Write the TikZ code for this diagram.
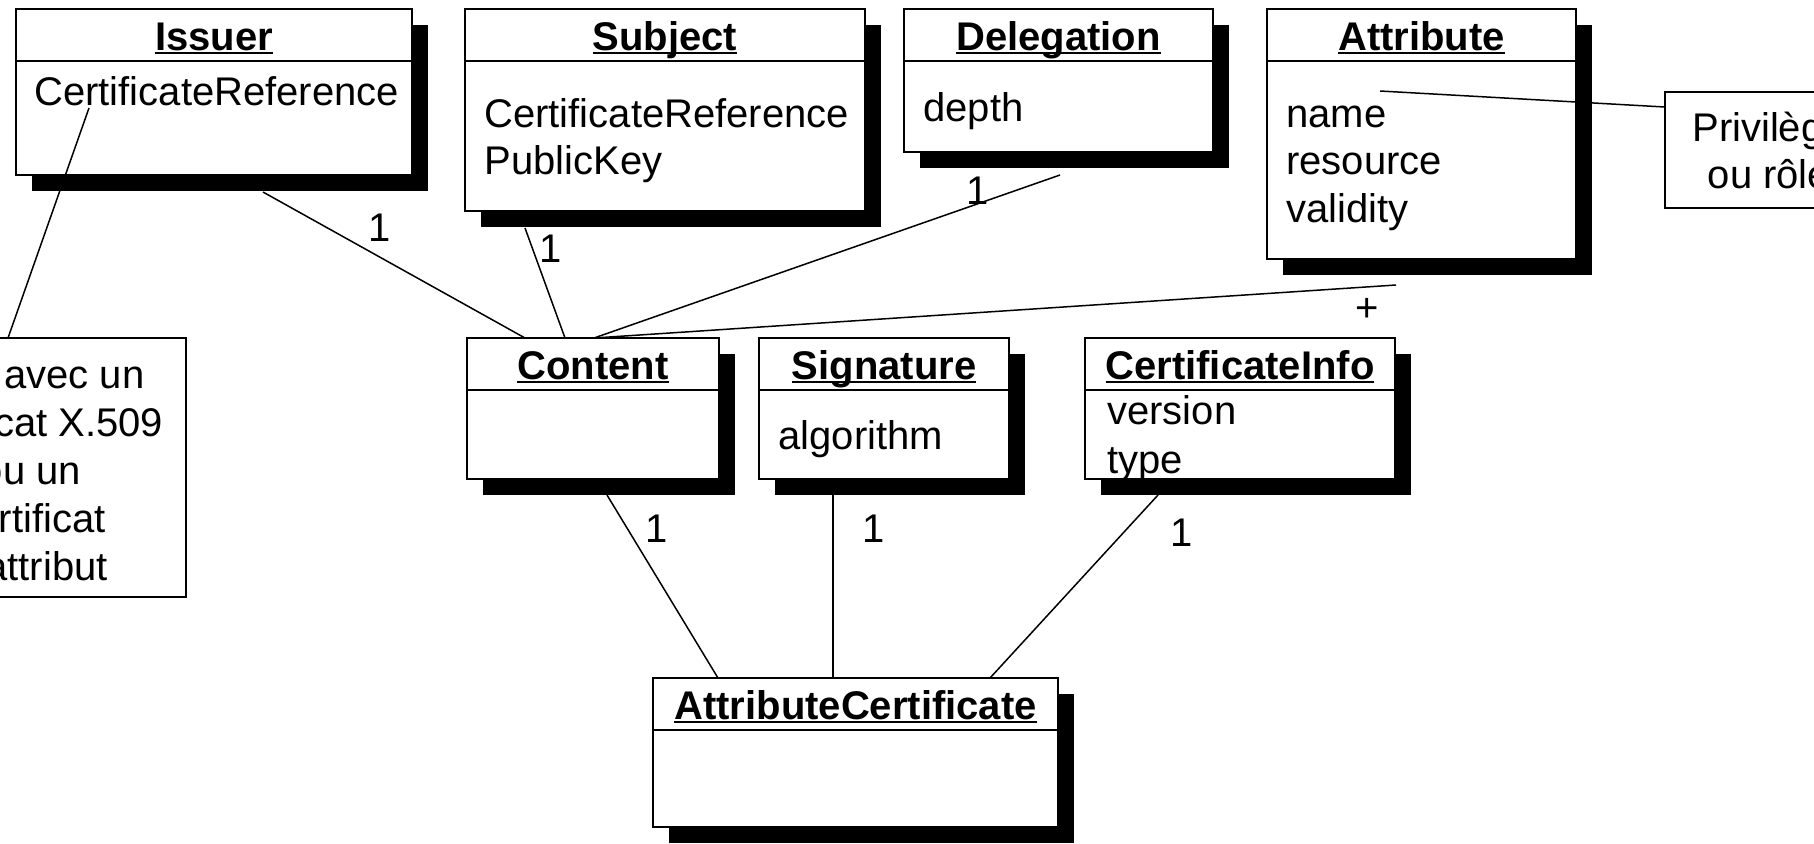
\documentclass[tikz,border=0pt]{standalone}
\usepackage{fontspec}
\setmainfont{Liberation Sans}
\usetikzlibrary{shadows,backgrounds}

% bold class name with a tight underline
\newsavebox\titlebox
\newcommand\ultitle[1]{\sbox\titlebox{\bfseries #1}\rlap{\rule[-2.2pt]{\wd\titlebox}{1.4pt}}\usebox\titlebox}

\begin{document}
\begin{tikzpicture}[x=0.5pt,y=-0.5pt,
  every node/.style={font=\fontsize{20}{24}\selectfont},
  classbox/.style={draw, fill=white, line width=0.75pt, anchor=north west,
    inner sep=0pt, outer sep=0pt,
    drop shadow={shadow xshift=8pt, shadow yshift=-8pt, opacity=1, fill=black}},
  notebox/.style={draw, fill=white, line width=0.75pt, anchor=north west,
    inner sep=0pt, outer sep=0pt},
  classtitle/.style={anchor=base, inner sep=0pt},
  member/.style={anchor=base west, inner sep=0pt},
  notetext/.style={anchor=base, inner sep=0pt},
  mult/.style={inner sep=0pt},
  link/.style={line width=0.75pt},
]
\useasboundingbox (0,0) rectangle (1814,843);
\clip (0,0) rectangle (1814,843);

% ---------- classes, top row ----------
\node[classbox, minimum width=198pt, minimum height=83pt] (issuer) at (16,9) {};
\draw[link] ([yshift=-26pt]issuer.north west) -- ([yshift=-26pt]issuer.north east);
\node[classtitle] (issuer-title) at ([yshift=-20.5pt]issuer.north) {\ultitle{Issuer}};
\node[member] (issuer-ref) at ([shift={(18,96)}]issuer.north west) {CertificateReference};

\node[classbox, minimum width=200pt, minimum height=101pt] (subject) at (465,9) {};
\draw[link] ([yshift=-26pt]subject.north west) -- ([yshift=-26pt]subject.north east);
\node[classtitle] (subject-title) at ([yshift=-20.5pt]subject.north) {\ultitle{Subject}};
\node[member] (subject-ref) at ([shift={(19,118)}]subject.north west) {CertificateReference};
\node[member] (subject-key) at ([shift={(19,165)}]subject.north west) {PublicKey};

\node[classbox, minimum width=154.5pt, minimum height=71.5pt] (delegation) at (904,9) {};
\draw[link] ([yshift=-26pt]delegation.north west) -- ([yshift=-26pt]delegation.north east);
\node[classtitle] (delegation-title) at ([yshift=-20.5pt]delegation.north) {\ultitle{Delegation}};
\node[member] (delegation-depth) at ([shift={(19,112)}]delegation.north west) {depth};

\node[classbox, minimum width=154.5pt, minimum height=125pt] (attribute) at (1267,9) {};
\draw[link] ([yshift=-26pt]attribute.north west) -- ([yshift=-26pt]attribute.north east);
\node[classtitle] (attribute-title) at ([yshift=-20.5pt]attribute.north) {\ultitle{Attribute}};
\node[member] (attribute-name) at ([shift={(19,118)}]attribute.north west) {name};
\node[member] (attribute-resource) at ([shift={(19,165)}]attribute.north west) {resource};
\node[member] (attribute-validity) at ([shift={(19,213)}]attribute.north west) {validity};

% ---------- classes, middle row ----------
\node[classbox, minimum width=126pt, minimum height=70.5pt] (content) at (467,338) {};
\draw[link] ([yshift=-26pt]content.north west) -- ([yshift=-26pt]content.north east);
\node[classtitle] (content-title) at ([yshift=-20.5pt]content.north) {\ultitle{Content}};

\node[classbox, minimum width=125pt, minimum height=70.5pt] (signature) at (759,338) {};
\draw[link] ([yshift=-26pt]signature.north west) -- ([yshift=-26pt]signature.north east);
\node[classtitle] (signature-title) at ([yshift=-20.5pt]signature.north) {\ultitle{Signature}};
\node[member] (signature-alg) at ([shift={(19,111)}]signature.north west) {algorithm};

\node[classbox, minimum width=155pt, minimum height=70.5pt] (certinfo) at (1085,338) {};
\draw[link] ([yshift=-26pt]certinfo.north west) -- ([yshift=-26pt]certinfo.north east);
\node[classtitle] (certinfo-title) at ([yshift=-20.5pt]certinfo.north) {\ultitle{CertificateInfo}};
\node[member] (certinfo-version) at ([shift={(22,86)}]certinfo.north west) {version};
\node[member] (certinfo-type) at ([shift={(22,135)}]certinfo.north west) {type};

% ---------- class, bottom ----------
\node[classbox, minimum width=202.5pt, minimum height=74.5pt] (attrcert) at (653,678) {};
\draw[link] ([yshift=-26pt]attrcert.north west) -- ([yshift=-26pt]attrcert.north east);
\node[classtitle] (attrcert-title) at ([yshift=-20.5pt]attrcert.north) {\ultitle{AttributeCertificate}};

% ---------- notes ----------
\node[notebox, minimum width=155pt, minimum height=129.5pt] (note-ref) at (-124,338) {};
\node[notetext] (note-ref-1) at ([shift={(155,50)}]note-ref.north west) {Lien avec un};
\node[notetext] (note-ref-2) at ([shift={(155,98)}]note-ref.north west) {certificat X.509};
\node[notetext] (note-ref-3) at ([shift={(155,146)}]note-ref.north west) {ou un};
\node[notetext] (note-ref-4) at ([shift={(155,194)}]note-ref.north west) {certificat};
\node[notetext] (note-ref-5) at ([shift={(155,242)}]note-ref.north west) {d'attribut};

\node[notebox, minimum width=104pt, minimum height=58pt] (note-priv) at (1665,92) {};
\node[notetext] (note-priv-1) at ([shift={(104,49)}]note-priv.north west) {Privilège};
\node[notetext] (note-priv-2) at ([shift={(104,96)}]note-priv.north west) {ou rôle};

% note anchors, drawn over the boxes
\draw[link] ([shift={(73,99)}]issuer.north west) -- ([shift={(132,0)}]note-ref.north west);
\draw[link] ([shift={(113,82)}]attribute.north west) -- ([shift={(0,15)}]note-priv.north west);

% ---------- associations, behind the boxes ----------
\begin{pgfonlayer}{background}
\draw[link] ([shift={(247,183)}]issuer.north west) -- ([shift={(58,0)}]content.north west);
\draw[link] ([shift={(60,219)}]subject.north west) -- ([shift={(98,0)}]content.north west);
\draw[link] ([shift={(156,166)}]delegation.north west) -- ([shift={(127,0)}]content.north west);
\draw[link] ([shift={(129,276)}]attribute.north west) -- ([shift={(127,0)}]content.north west);
\draw[link] ([shift={(140,157)}]content.north west) -- ([shift={(65,0)}]attrcert.north west);
\draw[link] ([shift={(74,157)}]signature.north west) -- ([shift={(180,0)}]attrcert.north west);
\draw[link] ([shift={(73,157)}]certinfo.north west) -- ([shift={(337,0)}]attrcert.north west);
\end{pgfonlayer}

% ---------- multiplicities ----------
\node[mult] (m-issuer) at (380,228) {1};
\node[mult] (m-subject) at (551,249) {1};
\node[mult] (m-delegation) at (978,191) {1};
\node[mult] (m-attribute) at (1367,310) {+};
\node[mult] (m-content) at (657,529) {1};
\node[mult] (m-signature) at (874,529) {1};
\node[mult] (m-certinfo) at (1182,533) {1};
\end{tikzpicture}
\end{document}
